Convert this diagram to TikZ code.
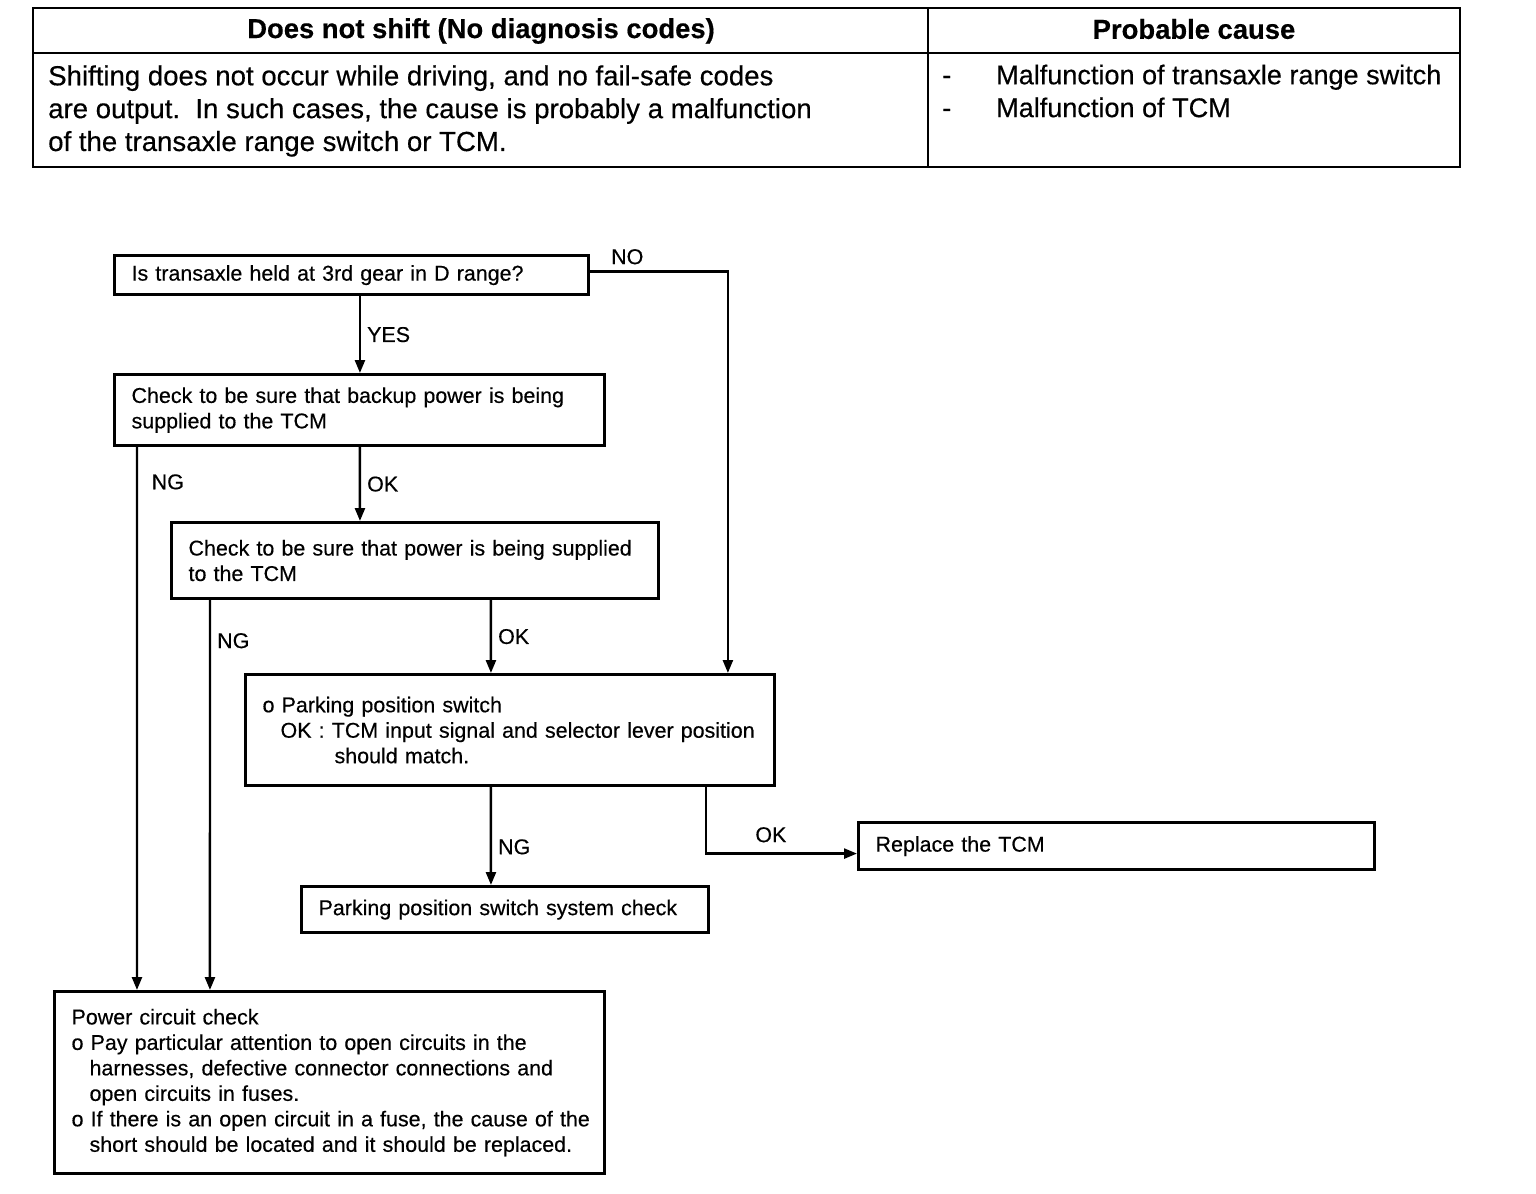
\documentclass[tikz,border=0pt]{standalone}
\usepackage{fontspec}
\setmainfont{Liberation Sans}[FakeBold=0.4]
\usepackage{tikz}
\usetikzlibrary{arrows.meta,positioning}
\tikzset{blk/.style={draw,line width=1.8pt,anchor=north west,align=left,inner xsep=0.34cm,inner ysep=0pt,font=\fontsize{12.2}{14.5}\selectfont}}
\tikzset{lbl/.style={font=\fontsize{12.2}{14.5}\selectfont,inner sep=0.12cm}}
\tikzset{hd/.style={font=\bfseries\fontsize{15.6}{18.7}\selectfont,inner sep=0pt}}
\tikzset{txt/.style={font=\fontsize{15.7}{18.7}\selectfont,align=left,inner sep=0pt,anchor=west}}

\begin{document}
\begin{tikzpicture}[>={Triangle[length=0.26cm,width=0.2cm]},x=0.02cm,y=-0.02cm,line width=1.4pt]
    \useasboundingbox (0,0) rectangle (1536,1194);

    \draw [] (33,8) rectangle (1460,167);
    \draw [] (33,53) -- (1460,53);
    \draw [] (928,8) -- (928,167);
    \node[hd] (hsym) at (481,31) {Does not shift (No diagnosis codes)};
    \node[hd] (hcause) at (1194,29) {Probable cause};
    \node[txt] (sym) at (47,111) {Shifting does not occur while driving, and no fail-safe codes\\are output.\ \ In such cases, the cause is probably a malfunction\\of the transaxle range switch or TCM.};
    \node[txt,font=\fontsize{15.4}{18.7}\selectfont] (cause) at (941,91) {\makebox[1.08cm][l]{-}Malfunction of transaxle range switch\\\makebox[1.08cm][l]{-}Malfunction of TCM};

    \node[blk,text width=8.8cm,minimum height=0.78cm] (held) at (113,254) {Is transaxle held at 3rd gear in D range?};
    \node[blk,text width=9.12cm,minimum height=1.42cm] (backup) at (113,373) {Check to be sure that backup power is being\\supplied to the TCM};
    \node[blk,text width=9.06cm,minimum height=1.52cm] (power) at (170,521) {Check to be sure that power is being supplied\\to the TCM};
    \node[blk,text width=9.9cm,minimum height=2.22cm] (park) at (244,673) {o Parking position switch\\\mbox{\hspace*{0.36cm}OK : TCM input signal and selector lever position}\\\hspace*{1.44cm}should match.};
    \node[blk,text width=9.64cm,minimum height=0.94cm] (replace) at (857,821) {Replace the TCM};
    \node[blk,text width=7.46cm,minimum height=0.92cm] (pswcheck) at (300,885) {Parking position switch system check};
    \node[blk,text width=10.32cm,minimum height=3.64cm] (circuit) at (53,990) {Power circuit check\\o Pay particular attention to open circuits in the\\\hspace*{0.36cm}harnesses, defective connector connections and\\\hspace*{0.36cm}open circuits in fuses.\\\mbox{o If there is an open circuit in a fuse, the cause of the}\\\mbox{\hspace*{0.36cm}short should be located and it should be replaced.}};

    \draw [->] ([xshift=4.94cm]held.south west) to []node[lbl,right]{YES} ([xshift=4.94cm]backup.north west);
    \draw [->] ([yshift=0.07cm]held.east) -| node[lbl,above,pos=0.135]{NO} ([xshift=9.68cm]park.north west);
    \draw [->] ([xshift=4.94cm]backup.south west) to []node[lbl,right]{OK} ([xshift=3.8cm]power.north west);
    \draw [->] ([xshift=0.48cm]backup.south west) to []node[lbl,right,pos=0.064,xshift=0.15cm]{NG} ([xshift=1.68cm]circuit.north west);
    \draw [->] ([xshift=0.8cm]power.south west) to []node[lbl,right,pos=0.104]{NG} ([xshift=3.14cm]circuit.north west);
    \draw [->] ([xshift=6.42cm]power.south west) to []node[lbl,right]{OK} ([xshift=4.94cm]park.north west);
    \draw [->] ([xshift=4.94cm]park.south west) to []node[lbl,right,pos=0.61]{NG} ([xshift=3.82cm]pswcheck.north west);
    \draw [->] ([xshift=9.24cm]park.south west) |- node[lbl,above,pos=0.715,yshift=0.08cm]{OK} ([yshift=-0.15cm]replace.west);
\end{tikzpicture}
\end{document}
